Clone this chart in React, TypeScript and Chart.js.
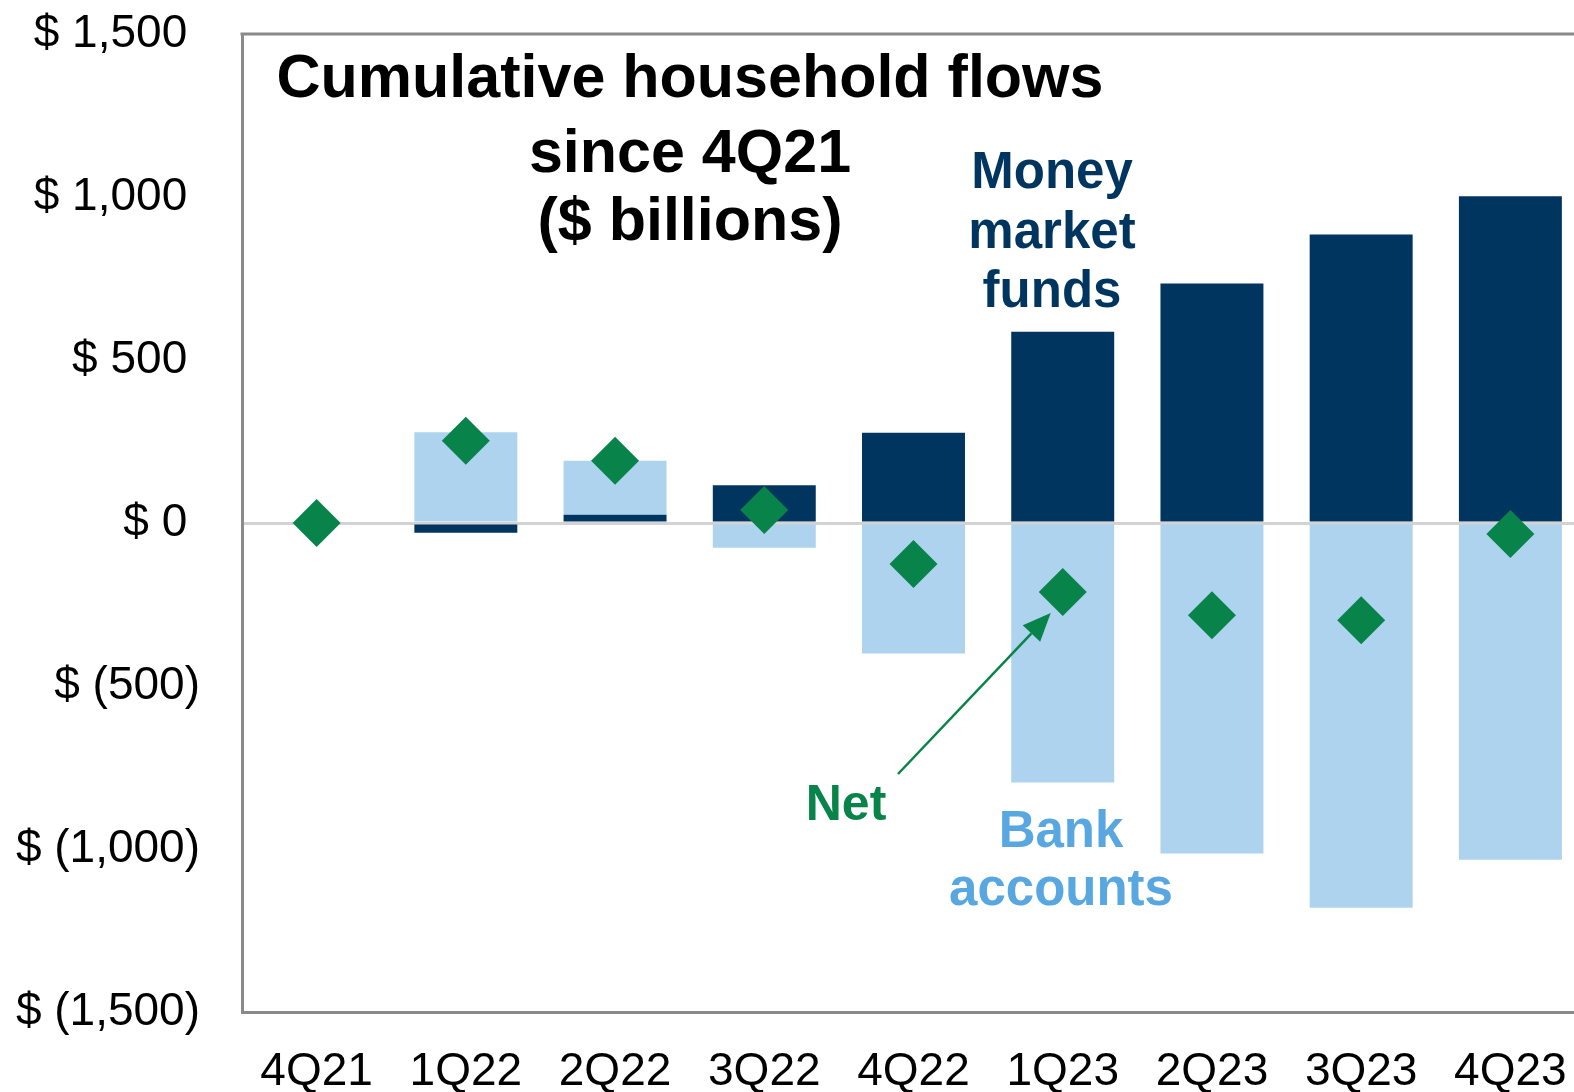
import React, { useEffect, useRef } from 'react';
import { Chart, registerables } from 'chart.js';

Chart.register(...registerables);

const quarters = ['4Q21', '1Q22', '2Q22', '3Q22', '4Q22', '1Q23', '2Q23', '3Q23', '4Q23'];
const moneyMarketFunds = [0, -30, 25, 116, 277, 587, 735, 885, 1002];
const bankAccounts = [0, 278, 166, -76, -400, -796, -1014, -1180, -1033];
const netFlows = [0, 252, 191, 40, -126, -212, -283, -298, -34];
const yTickValues = [-1500, -1000, -500, 0, 500, 1000, 1500];

const titleLines = ['Cumulative household flows', 'since 4Q21', '($ billions)'];
const mmfLabel = ['Money', 'market', 'funds'];
const bankLabel = ['Bank', 'accounts'];
const netLabel = 'Net';

const NAVY = '#00355F';
const LIGHT = '#AED3EF';
const GREEN = '#08844A';
const BANK_TEXT = '#58A7E0';
const AXIS_GRAY = '#8A8A8A';
const FONT = '"Liberation Sans", Arial, Helvetica, sans-serif';

const fmt = (v: number) => {
  const abs = Math.abs(v).toLocaleString('en-US');
  if (v < 0) return `$ (${abs})`;
  return `$ ${abs}\u2008`;
};

const annotationPlugin = {
  id: 'annotations',
  afterDraw(chart: any) {
    const { ctx, chartArea } = chart;
    const xs = chart.scales.x;
    const ys = chart.scales.y;
    const L = chartArea.left;
    const T = chartArea.top;
    ctx.save();
    // top border of plot box
    ctx.strokeStyle = AXIS_GRAY;
    ctx.lineWidth = 3;
    ctx.beginPath();
    ctx.moveTo(L - 1.5, T);
    ctx.lineTo(chartArea.right, T);
    ctx.stroke();

    ctx.textAlign = 'center';
    ctx.textBaseline = 'alphabetic';
    // title
    ctx.fillStyle = '#000000';
    ctx.font = `bold 61px ${FONT}`;
    const titleBase = [97, 172, 240];
    titleLines.forEach((t, i) => ctx.fillText(t, L + 448, titleBase[i]));

    // Money market funds
    ctx.fillStyle = NAVY;
    ctx.font = `bold 51px ${FONT}`;
    const mmfBase = [188, 248, 307];
    mmfLabel.forEach((t, i) => ctx.fillText(t, L + 810, mmfBase[i]));

    // Bank accounts
    ctx.fillStyle = BANK_TEXT;
    ctx.font = `bold 51px ${FONT}`;
    const bankBase = [847, 905];
    bankLabel.forEach((t, i) => ctx.fillText(t, L + 819, bankBase[i]));

    // Net
    ctx.fillStyle = GREEN;
    ctx.font = `bold 50px ${FONT}`;
    ctx.fillText(netLabel, L + 604, 820);

    // arrow to the 1Q23 net point
    const tipX = xs.getPixelForValue(5) - 12;
    const tipY = ys.getPixelForValue(netFlows[5]) + 21;
    const sx = L + 656;
    const sy = 774;
    const ang = Math.atan2(tipY - sy, tipX - sx);
    const headLen = 28;
    const headW = 12;
    const bx = tipX - headLen * Math.cos(ang);
    const by = tipY - headLen * Math.sin(ang);
    ctx.strokeStyle = GREEN;
    ctx.lineWidth = 2.5;
    ctx.beginPath();
    ctx.moveTo(sx, sy);
    ctx.lineTo(bx, by);
    ctx.stroke();
    ctx.fillStyle = GREEN;
    ctx.beginPath();
    ctx.moveTo(tipX, tipY);
    ctx.lineTo(bx + headW * Math.sin(ang), by - headW * Math.cos(ang));
    ctx.lineTo(bx - headW * Math.sin(ang), by + headW * Math.cos(ang));
    ctx.closePath();
    ctx.fill();
    ctx.restore();
  },
};

export default function App() {
  const ref = useRef<HTMLCanvasElement>(null);
  useEffect(() => {
    if (!ref.current) return;
    const chart = new Chart(ref.current, {
      type: 'bar',
      data: {
        labels: quarters,
        datasets: [
          {
            type: 'bar',
            label: 'Money market funds',
            data: moneyMarketFunds,
            backgroundColor: NAVY,
            stack: 'flows',
            barPercentage: 0.69,
            categoryPercentage: 1,
            order: 2,
          },
          {
            type: 'bar',
            label: 'Bank accounts',
            data: bankAccounts,
            backgroundColor: LIGHT,
            stack: 'flows',
            barPercentage: 0.69,
            categoryPercentage: 1,
            order: 2,
          },
          {
            type: 'line',
            label: 'Net',
            data: netFlows,
            stack: 'net',
            showLine: false,
            pointStyle: 'rectRot',
            pointRadius: 24,
            pointHoverRadius: 24,
            pointBackgroundColor: GREEN,
            pointBorderWidth: 0,
            borderColor: GREEN,
            backgroundColor: GREEN,
            order: 1,
          } as any,
        ],
      },
      options: {
        animation: false,
        responsive: true,
        maintainAspectRatio: false,
        layout: { padding: { top: 34, left: 0, right: 0, bottom: 0 } },
        plugins: {
          legend: { display: false },
          tooltip: { enabled: false },
        },
        scales: {
          x: {
            stacked: true,
            grid: { display: false, drawTicks: false },
            border: { display: true, color: AXIS_GRAY, width: 3 },
            ticks: {
              color: '#000000',
              font: { family: FONT, size: 46 },
              padding: 33,
              maxRotation: 0,
              autoSkip: false,
            },
            afterFit: (s: any) => {
              s.height = 80;
              s.paddingLeft = 0;
              s.paddingRight = 0;
            },
          },
          y: {
            stacked: true,
            min: -1500,
            max: 1500,
            afterBuildTicks: (s: any) => {
              s.ticks = yTickValues.map((v) => ({ value: v }));
            },
            grid: {
              drawTicks: false,
              color: (c: any) => (c.tick && c.tick.value === 0 ? '#D3D3D3' : 'rgba(0,0,0,0)'),
              lineWidth: 3,
            },
            border: { display: true, color: AXIS_GRAY, width: 3 },
            ticks: {
              color: '#000000',
              font: { family: FONT, size: 46 },
              padding: 42,
              callback: (v: any) => fmt(Number(v)),
            },
            afterFit: (s: any) => {
              s.width = 242;
              s.paddingTop = 0;
              s.paddingBottom = 0;
            },
          },
        },
      },
      plugins: [annotationPlugin],
    });
    return () => chart.destroy();
  }, []);

  return (
    <div
      style={{
        position: 'fixed',
        left: 0,
        top: 0,
        width: 1574,
        height: 1092,
        overflow: 'hidden',
        background: '#ffffff',
      }}
    >
      <div style={{ position: 'relative', width: 1609, height: 1092 }}>
        <canvas ref={ref} />
      </div>
    </div>
  );
}
